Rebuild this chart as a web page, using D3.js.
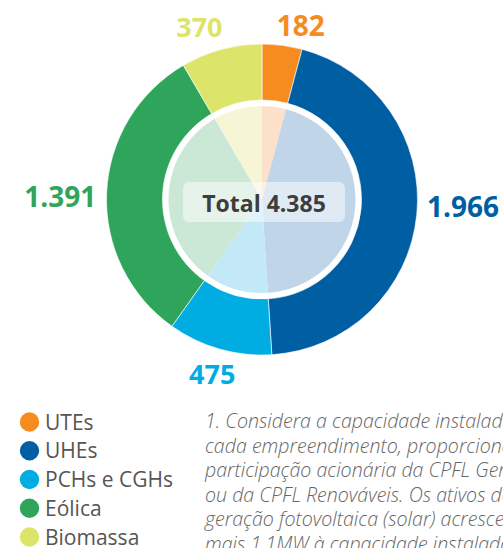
<!DOCTYPE html>
<html>
<head>
<meta charset="utf-8">
<script src="https://cdn.jsdelivr.net/npm/d3@7/dist/d3.min.js"></script>
<style>
  html, body { margin: 0; padding: 0; background: #fff; overflow: hidden; }
  svg { display: block; }
</style>
</head>
<body>
<svg id="chart" width="503" height="548"></svg>
<script>
// ---- data ----
const categories = ["UTEs", "UHEs", "PCHs e CGHs", "Eólica", "Biomassa"];
const values = [182, 1966, 475, 1391, 370];
const valueLabels = ["182", "1.966", "475", "1.391", "370"];
const colors = ["#f68b1f", "#005fa3", "#00ade2", "#2fa55b", "#dde46a"];
const paleColors = ["#fde0c9", "#c0d5e8", "#c3e8f7", "#cbe7d6", "#f6f6d6"];
const totalLabel = "Total 4.385";
const footnoteLines = [
  "1. Considera a capacidade instalada de",
  "cada empreendimento, proporcional à",
  "participação acionária da CPFL Geração",
  "ou da CPFL Renováveis. Os ativos de",
  "geração fotovoltaica (solar) acrescentam",
  "mais 1,1MW à capacidade instalada"
];

// ---- layout ----
const svg = d3.select("#chart");
const cx = 262, cy = 199.5;
const rOuter = 155.5, rInner = 99.5, rPale = 93.5;

const pie = d3.pie().sort(null).value(d => d)(values);
const arcRing = d3.arc().innerRadius(rInner).outerRadius(rOuter);
const arcPale = d3.arc().innerRadius(0).outerRadius(rPale);

const g = svg.append("g").attr("transform", `translate(${cx},${cy})`);

g.selectAll("path.ring").data(pie).join("path")
  .attr("class", "ring")
  .attr("d", arcRing)
  .attr("fill", (d, i) => colors[i])
  .attr("stroke", "#fff")
  .attr("stroke-width", 0.6);

g.selectAll("path.pale").data(pie).join("path")
  .attr("class", "pale")
  .attr("d", arcPale)
  .attr("fill", (d, i) => paleColors[i]);

// centre total box
const boxW = 162, boxH = 40;
g.append("rect")
  .attr("x", -boxW / 2 + 2).attr("y", -boxH / 2 + 2.5)
  .attr("width", boxW).attr("height", boxH)
  .attr("rx", 6)
  .attr("fill", "#fff").attr("fill-opacity", 0.5);
g.append("text")
  .attr("x", 2).attr("y", 12)
  .attr("text-anchor", "middle")
  .attr("font-family", "'Open Sans', sans-serif")
  .attr("font-weight", 700)
  .attr("font-size", 23)
  .attr("fill", "#3d3d3d")
  .text(totalLabel);

// value labels placed around the ring, from each slice's mid angle
const labelRadius = [175, 200, 182, 202, 178];
const labelNudge = [[16, 0], [2, -12], [0, 0], [0, 6], [-16, 0]];
const labelFont = [28, 28, 27, 28, 27];
g.selectAll("text.val").data(pie).join("text")
  .attr("class", "val")
  .attr("transform", (d, i) => {
    const a = (d.startAngle + d.endAngle) / 2;
    const r = labelRadius[i];
    return `translate(${r * Math.sin(a) + labelNudge[i][0]},${-r * Math.cos(a) + labelNudge[i][1]})`;
  })
  .attr("text-anchor", "middle")
  .attr("dy", "0.36em")
  .attr("font-family", "'Open Sans', sans-serif")
  .attr("font-weight", 700)
  .attr("font-size", (d, i) => labelFont[i])
  .attr("fill", (d, i) => colors[i])
  .text((d, i) => valueLabels[i]);

// legend
const legY = d3.scalePoint().domain(categories).range([422, 537]);
const leg = svg.append("g");
leg.selectAll("circle").data(categories).join("circle")
  .attr("cx", 29.5).attr("cy", d => legY(d)).attr("r", 9.7)
  .attr("fill", (d, i) => colors[i]);
leg.selectAll("text").data(categories).join("text")
  .attr("x", 45).attr("y", d => legY(d) + 7.5)
  .attr("font-family", "'Open Sans', sans-serif")
  .attr("font-size", 21)
  .attr("fill", "#555")
  .text(d => d);

// footnote
const fnY = d3.scaleLinear().domain([0, footnoteLines.length - 1]).range([428, 551]);
svg.append("g").selectAll("text").data(footnoteLines).join("text")
  .attr("x", 205).attr("y", (d, i) => fnY(i))
  .attr("font-family", "'Open Sans', sans-serif")
  .attr("font-style", "italic")
  .attr("font-weight", 300)
  .attr("font-size", 19.6)
  .attr("fill", "#666")
  .text(d => d);
</script>
</body>
</html>
